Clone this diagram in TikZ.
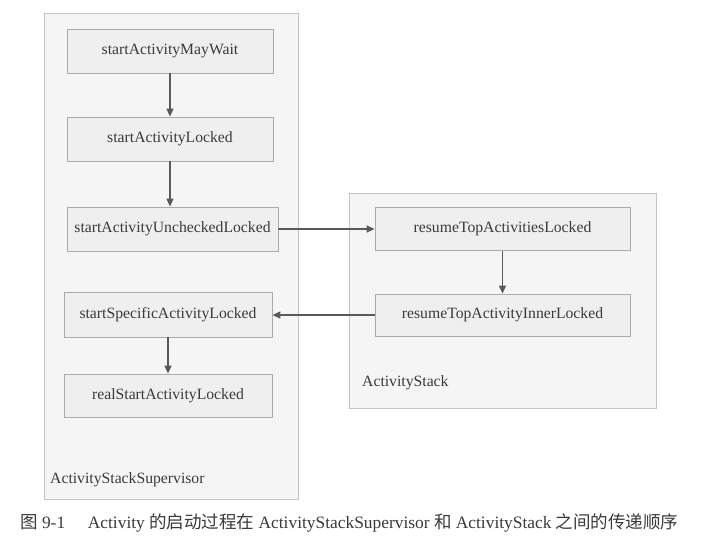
\documentclass[tikz,border=0pt]{standalone}
\usepackage{fontspec}
\setmainfont{Liberation Serif}
\newfontfamily\cjk{Noto Sans CJK SC}
\usetikzlibrary{arrows.meta}

\definecolor{boxfill}{HTML}{EFEFEF}
\definecolor{boxline}{HTML}{ABABAB}
\definecolor{grpfill}{HTML}{F5F5F5}
\definecolor{grpline}{HTML}{C4C4C4}
\definecolor{txt}{HTML}{3A3A3A}
\definecolor{arr}{HTML}{5A5A5A}

\newcommand{\zh}[1]{{\cjk\fontsize{17.5}{20}\selectfont #1}}

\tikzset{
  func/.style={draw=boxline,fill=boxfill,line width=0.8pt,text=txt,inner sep=0pt,
    font=\fontsize{15.7}{18}\selectfont},
  group/.style={draw=grpline,fill=grpfill,line width=0.8pt,inner sep=0pt},
  grplabel/.style={anchor=west,text=txt,inner sep=0pt,font=\fontsize{15.7}{18}\selectfont},
  call/.style={draw=arr,line width=1.3pt,-{Triangle[length=8pt,width=7pt]}}
}

\begin{document}
\begin{tikzpicture}[x=1pt,y=-1pt]
\useasboundingbox[fill=white] (0,0) rectangle (702,549);
% containers
\node[group,minimum width=254pt,minimum height=486pt] (supervisor) at (171,256) {};
\node[group,minimum width=307pt,minimum height=215pt] (stack) at (502.5,300.5) {};
\node[grplabel] (suplabel) at (50,480) {ActivityStackSupervisor};
\node[grplabel] (stacklabel) at (362,383) {ActivityStack};
% methods
\node[func,minimum width=206pt,minimum height=44pt] (maywait) at (170,51) {startActivityMayWait};
\node[func,minimum width=206pt,minimum height=44pt] (locked) at (170,139) {startActivityLocked};
\node[func,minimum width=211pt,minimum height=44pt] (unchecked) at (172.5,229) {startActivityUncheckedLocked};
\node[func,minimum width=208pt,minimum height=45pt] (specific) at (168,314.5) {startSpecificActivityLocked};
\node[func,minimum width=208pt,minimum height=43pt] (realstart) at (168,395.5) {realStartActivityLocked};
\node[func,minimum width=255pt,minimum height=43pt] (resumetop) at (502.5,229) {resumeTopActivitiesLocked};
\node[func,minimum width=255pt,minimum height=42pt] (resumeinner) at (502.5,315) {resumeTopActivityInnerLocked};
% calls
\draw[call] (maywait) -- (locked);
\draw[call] (locked.south) -- (locked.south |- unchecked.north);
\draw[call] (unchecked) -- (resumetop);
\draw[call] (resumetop) -- (resumeinner);
\draw[call] (resumeinner.west) -- (resumeinner.west -| specific.east);
\draw[call] (specific) -- (realstart);
% caption
\node[anchor=west,text=txt,inner sep=0pt,font=\fontsize{17.4}{20}\selectfont] (caption) at (20,523)
  {\zh{图} 9-1\hspace{1.3em}Activity \zh{的启动过程在} ActivityStackSupervisor \zh{和} ActivityStack \zh{之间的传递顺序}};
\end{tikzpicture}
\end{document}
